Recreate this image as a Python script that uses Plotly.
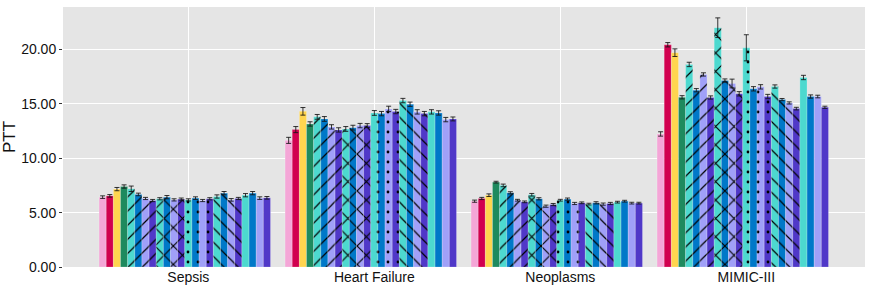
import plotly.graph_objects as go

categories = ["Sepsis", "Heart Failure", "Neoplasms", "MIMIC-III"]

series_names = [
    "S01", "S02", "S03", "S04",
    "S05", "S06", "S07", "S08",
    "S09", "S10", "S11", "S12",
    "S13", "S14", "S15", "S16",
    "S17", "S18", "S19", "S20",
    "S21", "S22", "S23", "S24",
]

# values per series: [Sepsis, Heart Failure, Neoplasms, MIMIC-III]
values = [
    [6.42, 11.64, 6.05, 12.23],
    [6.54, 12.63, 6.30, 20.43],
    [7.16, 14.31, 6.60, 19.70],
    [7.40, 13.15, 7.80, 15.60],
    [7.19, 13.80, 7.50, 18.62],
    [6.67, 13.61, 6.82, 16.25],
    [6.30, 12.88, 6.14, 17.70],
    [6.11, 12.60, 5.99, 15.58],
    [6.27, 12.69, 6.64, 22.00],
    [6.42, 12.81, 6.27, 17.14],
    [6.17, 13.00, 5.59, 16.87],
    [6.24, 13.00, 5.74, 15.92],
    [6.17, 14.16, 6.14, 20.15],
    [6.33, 14.10, 6.24, 16.38],
    [6.11, 14.53, 5.84, 16.56],
    [6.27, 14.29, 5.90, 15.67],
    [6.48, 15.30, 5.78, 16.59],
    [6.79, 14.96, 5.90, 15.39],
    [6.17, 14.26, 5.78, 15.08],
    [6.30, 14.10, 5.84, 14.56],
    [6.60, 14.26, 5.96, 17.42],
    [6.79, 14.16, 6.05, 15.67],
    [6.33, 13.55, 5.87, 15.67],
    [6.36, 13.61, 5.87, 14.68],
]

errors = [
    [0.12, 0.28, 0.10, 0.20],
    [0.12, 0.28, 0.10, 0.20],
    [0.15, 0.35, 0.12, 0.35],
    [0.15, 0.20, 0.08, 0.15],
    [0.25, 0.22, 0.12, 0.20],
    [0.12, 0.22, 0.10, 0.15],
    [0.10, 0.20, 0.08, 0.15],
    [0.10, 0.20, 0.08, 0.15],
    [0.10, 0.22, 0.12, 0.90],
    [0.15, 0.22, 0.10, 0.15],
    [0.10, 0.20, 0.10, 0.40],
    [0.10, 0.18, 0.10, 0.20],
    [0.10, 0.22, 0.08, 1.20],
    [0.12, 0.20, 0.10, 0.20],
    [0.10, 0.25, 0.10, 0.20],
    [0.10, 0.20, 0.08, 0.20],
    [0.15, 0.20, 0.08, 0.15],
    [0.15, 0.20, 0.10, 0.10],
    [0.12, 0.20, 0.10, 0.10],
    [0.10, 0.20, 0.10, 0.12],
    [0.15, 0.20, 0.08, 0.20],
    [0.15, 0.20, 0.08, 0.15],
    [0.12, 0.20, 0.08, 0.12],
    [0.12, 0.18, 0.08, 0.10],
]

colors = [
    "#F4A6D7", "#D1004F", "#FFD54F", "#1E8A5E",
    "#4DD9CF", "#0078C8", "#A0A0F8", "#5038C8",
    "#4DD9CF", "#0078C8", "#A0A0F8", "#5038C8",
    "#4DD9CF", "#0078C8", "#A0A0F8", "#5038C8",
    "#4DD9CF", "#0078C8", "#A0A0F8", "#5038C8",
    "#4DD9CF", "#0078C8", "#A0A0F8", "#5038C8",
]

patterns = [
    "", "", "", "",
    "/", "/", "/", "/",
    "x", "x", "x", "x",
    ".", ".", ".", ".",
    "\\", "\\", "\\", "\\",
    "", "", "", "",
]

pattern_style = {
    "": (8, 0.1),
    "/": (10, 0.12),
    "\\": (10, 0.12),
    "x": (13, 0.17),
    ".": (10, 0.06),
}

fig = go.Figure()
for name, vals, errs, col, pat in zip(series_names, values, errors, colors, patterns):
    pat_size, pat_sol = pattern_style[pat]
    fig.add_trace(go.Bar(
        name=name,
        x=categories,
        y=vals,
        marker=dict(
            color=col,
            line=dict(width=0.6, color="rgba(255,255,255,0.35)"),
            pattern=dict(shape=pat, fgcolor="#000000", fgopacity=1,
                         size=pat_size, solidity=pat_sol),
        ),
        error_y=dict(type="data", array=errs, color="rgba(20,20,20,0.85)",
                     thickness=1, width=2.5),
        showlegend=False,
    ))

# empty slot at the end of each group
fig.add_trace(go.Bar(name="", x=categories, y=[None] * len(categories),
                     showlegend=False, hoverinfo="skip"))

fig.update_layout(
    width=872, height=289,
    margin=dict(l=63, r=7, t=7, b=22),
    barmode="group",
    bargap=0.04,
    bargroupgap=0,
    plot_bgcolor="#E5E5E5",
    paper_bgcolor="white",
    font=dict(family="Liberation Sans, Arial, sans-serif", size=14, color="#111111"),
)
fig.update_xaxes(
    type="category",
    range=[-0.674, 3.638],
    automargin=False,
    showgrid=True, gridcolor="white", gridwidth=1,
    ticks="", ticklen=0,
    tickfont=dict(size=14, color="#111111"),
    zeroline=False, showline=False,
)
fig.update_yaxes(
    range=[0, 23.9],
    automargin=False,
    tickvals=[0, 5, 10, 15, 20],
    tickformat=".2f",
    showgrid=True, gridcolor="white", gridwidth=1,
    ticks="outside", ticklen=3, tickcolor="#333333",
    tickfont=dict(size=14, color="#111111"),
    title=dict(text="PTT", font=dict(size=17, color="#111111"), standoff=3),
    zeroline=False, showline=False,
)

fig.write_html("out.html",
               config={"displayModeBar": False},
               post_script="document.body.style.margin='0';document.body.style.overflow='hidden';")
